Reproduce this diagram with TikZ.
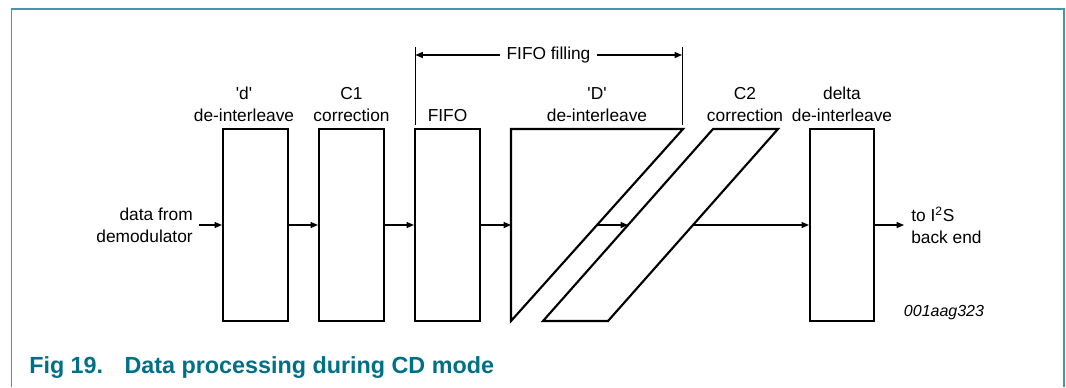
\documentclass[tikz,border=0pt]{standalone}
\usepackage{fontspec}
\setmainfont{Liberation Sans}
\usetikzlibrary{arrows.meta}
\definecolor{capteal}{RGB}{0,112,135}
\definecolor{frameteal}{RGB}{70,150,165}
\tikzset{
  blk/.style={draw, line width=1.6pt, minimum width=48.75pt, minimum height=144pt, inner sep=0pt},
  shp/.style={draw, line width=1.6pt, line join=miter},
  arr/.style={line width=0.8pt, -{Triangle[length=5.5pt,width=4.5pt]}},
  thin/.style={line width=0.7pt},
  lbl/.style={align=center, inner sep=0pt, font=\fontsize{13}{16.5}\selectfont},
  txt/.style={inner sep=0pt, font=\fontsize{13}{16.5}\selectfont},
}
\begin{document}
\begin{tikzpicture}[x=0.75pt,y=-0.75pt]
\useasboundingbox (0,0) rectangle (1066,387);
% frame
\draw[frameteal, line width=1pt] (11.5,387) -- (11.5,9) -- (1064,9) -- (1064,387);

% rectangular blocks
\node[blk] (b1) at (255.5,225) {};
\node[blk] (b2) at (351.5,225) {};
\node[blk] (b3) at (447.5,225) {};
\node[blk, minimum width=48pt] (b6) at (842,225) {};

% triangle ('D' de-interleave)
\coordinate (t1) at (511,129);
\coordinate (t2) at (683,129);
\coordinate (t3) at (511,321);
\draw[shp] (t1) -- (t2) -- (t3) -- cycle;
% parallelogram (C2 correction)
\coordinate (p1) at (713,129);
\coordinate (p2) at (778,129);
\coordinate (p3) at (608,321);
\coordinate (p4) at (543,321);
\draw[shp] (p1) -- (p2) -- (p3) -- (p4) -- cycle;

% connection points
\coordinate (tw) at (511,225);
\coordinate (tm) at (597,225);
\coordinate (pl) at (628,225);
\coordinate (pr) at (693,225);
\coordinate (in) at (199,225);
\coordinate (out) at (904,225);

% arrows
\draw[arr] (in) -- (b1.west);
\draw[arr] (b1.east) -- (b2.west);
\draw[arr] (b2.east) -- (b3.west);
\draw[arr] (b3.east) -- (tw);
\draw[arr] (tm) -- (pl);
\draw[arr] (pr) -- (b6.west);
\draw[arr] (b6.east) -- (out);

% FIFO filling
\coordinate (fl1) at (415,47);
\coordinate (fl2) at (415,125);
\coordinate (fr1) at (682.5,47);
\coordinate (fr2) at (682.5,125);
\draw[thin] (fl1) -- (fl2);
\draw[thin] (fr1) -- (fr2);
\node[txt, inner xsep=4.5pt] (ff) at (548.5,55) {FIFO filling};
\coordinate (fla) at (415.5,55);
\coordinate (fra) at (682,55);
\draw[arr] (ff.west) -- (fla);
\draw[arr] (ff.east) -- (fra);

% labels
\node[lbl] (l1) at (244,104.25) {\textquotesingle d\textquotesingle\\de-interleave};
\node[lbl] (l2) at (351.5,104.25) {C1\\correction};
\node[lbl] (l3) at (447.5,115.5) {FIFO};
\node[lbl] (l4) at (597,104.25) {\textquotesingle D\textquotesingle\\de-interleave};
\node[lbl] (l5) at (745,104.25) {C2\\correction};
\node[lbl] (l6) at (842,104.25) {delta\\de-interleave};

\node[lbl, anchor=east, align=right] (src) at (193,225) {data from\\demodulator};
\node[lbl, anchor=west, align=left] (dst) at (911,225) {to I\textsuperscript{2}S\\back end};
\node[txt, font=\fontsize{12}{14}\selectfont\itshape] (id) at (944,313) {001aag323};

% caption
\node[anchor=west, inner sep=0pt, text=capteal, font=\fontsize{17.5}{20}\selectfont\bfseries] (cap) at (29,368) {Fig 19.\hspace*{16pt}Data processing during CD mode};
\end{tikzpicture}
\end{document}
